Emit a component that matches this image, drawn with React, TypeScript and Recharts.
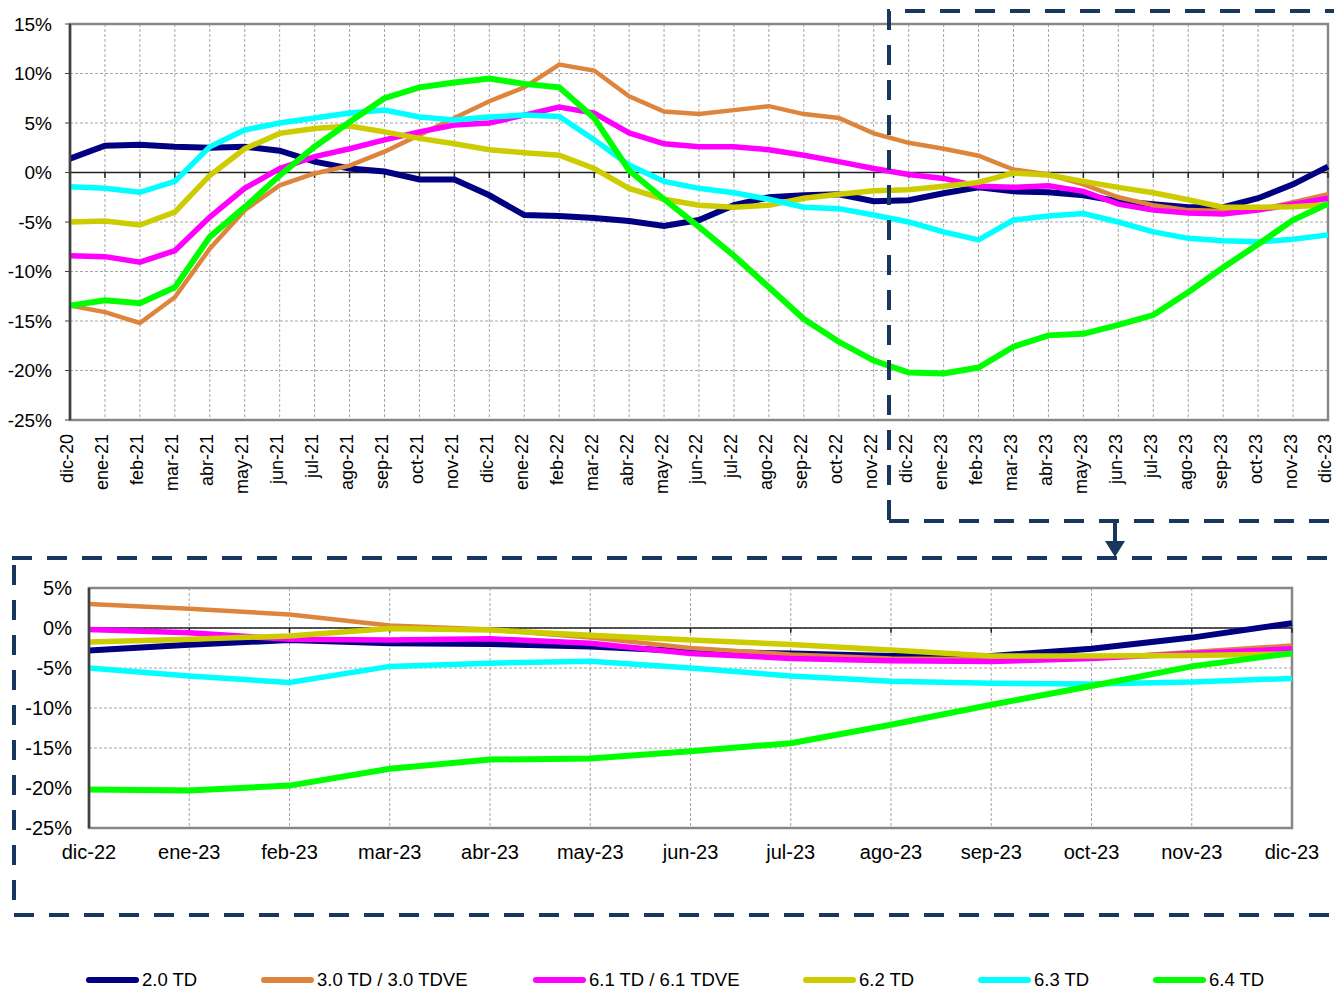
import React from 'react'
import { LineChart, Line, XAxis, YAxis, CartesianGrid, ReferenceLine, ReferenceArea } from 'recharts'

const months = [
  'dic-20', 'ene-21', 'feb-21', 'mar-21', 'abr-21', 'may-21', 'jun-21', 'jul-21', 'ago-21', 'sep-21', 'oct-21', 'nov-21',
  'dic-21', 'ene-22', 'feb-22', 'mar-22', 'abr-22', 'may-22', 'jun-22', 'jul-22', 'ago-22', 'sep-22', 'oct-22', 'nov-22',
  'dic-22', 'ene-23', 'feb-23', 'mar-23', 'abr-23', 'may-23', 'jun-23', 'jul-23', 'ago-23', 'sep-23', 'oct-23', 'nov-23',
  'dic-23',
]

// variación interanual (%)
const td20 = [1.4, 2.7, 2.8, 2.6, 2.5, 2.6, 2.2, 1.1, 0.4, 0.1, -0.7, -0.7, -2.3, -4.3, -4.4, -4.6, -4.9, -5.4, -4.8, -3.3, -2.5, -2.3, -2.2, -2.9, -2.8, -2.1, -1.5, -1.9, -2.0, -2.3, -2.9, -3.2, -3.5, -3.5, -2.6, -1.2, 0.6]
const td30 = [-13.45, -14.1, -15.2, -12.6, -7.7, -3.8, -1.3, -0.1, 0.7, 2.1, 3.8, 5.5, 7.2, 8.6, 10.9, 10.3, 7.7, 6.15, 5.9, 6.3, 6.7, 5.9, 5.5, 3.95, 3.0, 2.4, 1.7, 0.3, -0.2, -1.2, -2.5, -3.3, -3.8, -3.9, -3.8, -3.0, -2.2]
const td61 = [-8.4, -8.5, -9.05, -7.9, -4.5, -1.6, 0.4, 1.6, 2.4, 3.3, 4.1, 4.8, 5.0, 5.8, 6.6, 6.0, 4.0, 2.9, 2.6, 2.6, 2.3, 1.75, 1.1, 0.4, -0.2, -0.6, -1.4, -1.5, -1.35, -1.9, -3.2, -3.8, -4.1, -4.2, -3.8, -3.2, -2.6]
const td62 = [-5.0, -4.9, -5.3, -4.0, -0.3, 2.4, 3.95, 4.45, 4.7, 4.1, 3.45, 2.9, 2.3, 2.0, 1.75, 0.4, -1.6, -2.7, -3.3, -3.5, -3.3, -2.6, -2.2, -1.85, -1.75, -1.4, -1.0, -0.05, -0.25, -0.9, -1.5, -2.05, -2.75, -3.5, -3.5, -3.45, -3.25]
const td63 = [-1.45, -1.6, -2.0, -0.9, 2.6, 4.3, 5.0, 5.5, 6.0, 6.3, 5.6, 5.3, 5.6, 5.8, 5.65, 3.3, 0.75, -0.9, -1.6, -2.05, -2.7, -3.5, -3.65, -4.3, -5.0, -6.0, -6.8, -4.8, -4.4, -4.15, -5.0, -6.0, -6.65, -6.9, -7.0, -6.75, -6.3]
const td64 = [-13.45, -12.9, -13.2, -11.6, -6.5, -3.5, -0.3, 2.6, 5.1, 7.5, 8.6, 9.1, 9.5, 8.95, 8.6, 5.5, 0.2, -2.7, -5.5, -8.4, -11.6, -14.8, -17.1, -19.0, -20.2, -20.3, -19.7, -17.6, -16.45, -16.3, -15.4, -14.4, -12.1, -9.6, -7.25, -4.8, -3.15]

const seriesNames = ['2.0 TD', '3.0 TD / 3.0 TDVE', '6.1 TD / 6.1 TDVE', '6.2 TD', '6.3 TD', '6.4 TD']
const topTicks = [-25, -20, -15, -10, -5, 0, 5, 10, 15]
const zoomTicks = [-25, -20, -15, -10, -5, 0, 5]
const zoomFrom = 24 // dic-22

const series = [
  { key: 'td20', name: seriesNames[0], values: td20, color: '#000080', width: 6 },
  { key: 'td30', name: seriesNames[1], values: td30, color: '#dd853c', width: 4.5 },
  { key: 'td61', name: seriesNames[2], values: td61, color: '#ff00ff', width: 5.5 },
  { key: 'td62', name: seriesNames[3], values: td62, color: '#cccc00', width: 5.5 },
  { key: 'td63', name: seriesNames[4], values: td63, color: '#00ffff', width: 5.5 },
  { key: 'td64', name: seriesNames[5], values: td64, color: '#00ff00', width: 6 },
]

const data = months.map((mes, i) => {
  const row: Record<string, string | number> = { mes }
  series.forEach((s) => { row[s.key] = s.values[i] })
  return row
})
const zoomData = data.slice(zoomFrom)

const font = '"Liberation Sans", Arial, sans-serif'
const dashColor = '#17375e'
const legendLefts = [86, 261, 533, 803, 978, 1153]

function RotatedTick({ x, y, payload }: any) {
  return (
    <text transform={`translate(${x - 3},${y}) rotate(-90)`} textAnchor="end" dy="0.36em" fontSize={18} fill="#000" fontFamily={font}>
      {payload.value}
    </text>
  )
}

function FlatTick({ x, y, payload }: any) {
  return (
    <text x={x} y={y} textAnchor="middle" dy="0.75em" fontSize={20} fill="#000" fontFamily={font}>
      {payload.value}
    </text>
  )
}

function Panel({ rows, ticks, width, height, margin, yWidth, big }: any) {
  const first = rows[0].mes
  const last = rows[rows.length - 1].mes
  return (
    <LineChart width={width} height={height} data={rows} margin={margin}>
      <CartesianGrid stroke="#a6a6a6" strokeDasharray="3 2" />
      <ReferenceArea x1={first} x2={last} y1={ticks[0]} y2={ticks[ticks.length - 1]} fill="none" stroke="#878787" strokeWidth={2.5} />
      <XAxis
        dataKey="mes"
        interval={0}
        axisLine={false}
        tickLine={false}
        tickSize={0}
        tickMargin={big ? 14 : 16}
        height={big ? 76 : 40}
        tick={big ? <RotatedTick /> : <FlatTick />}
      />
      <YAxis
        domain={[ticks[0], ticks[ticks.length - 1]]}
        ticks={ticks}
        width={yWidth}
        interval={0}
        tickFormatter={(v: number) => `${v}%`}
        tick={{ fontSize: big ? 19 : 20, fill: '#000', fontFamily: font }}
        axisLine={{ stroke: '#404040', strokeWidth: 2.5 }}
        tickLine={big ? { stroke: '#404040' } : false}
        tickSize={big ? 5 : 0}
        tickMargin={big ? 13 : 17}
      />
      <ReferenceLine y={0} stroke="#222" strokeWidth={1.5} />
      {rows.map((r: any) => (
        <ReferenceLine key={r.mes} segment={[{ x: r.mes, y: 0 }, { x: r.mes, y: big ? -0.55 : -0.6 }]} stroke="#222" strokeWidth={1.5} />
      ))}
      {series.map((s) => (
        <Line
          key={s.key}
          type="linear"
          dataKey={s.key}
          name={s.name}
          stroke={s.color}
          strokeWidth={s.width}
          dot={false}
          activeDot={false}
          isAnimationActive={false}
        />
      ))}
    </LineChart>
  )
}

export default function App() {
  return (
    <div style={{ position: 'absolute', left: 0, top: 0, width: 1334, height: 989, background: '#fff', overflow: 'hidden' }}>
      <div style={{ position: 'absolute', left: 0, top: 0 }}>
        <Panel rows={data} ticks={topTicks} width={1334} height={500} margin={{ top: 24, right: 6, left: 0, bottom: 4 }} yWidth={70} big />
      </div>
      <div style={{ position: 'absolute', left: 0, top: 560 }}>
        <Panel rows={zoomData} ticks={zoomTicks} width={1334} height={320} margin={{ top: 28, right: 42, left: 0, bottom: 12 }} yWidth={89} />
      </div>

      <svg width={1334} height={989} style={{ position: 'absolute', left: 0, top: 0, pointerEvents: 'none' }}>
        <g fill="none" stroke={dashColor} strokeWidth={4} strokeDasharray="20 15">
          <path d="M889,520 V11 H1334" />
          <path d="M889,521 H1334" />
          <path d="M1115,523 V542" strokeDasharray="none" />
          <path d="M12,558 H1334" />
          <path d="M14,565 V915" />
          <path d="M14,915 H1334" />
        </g>
        <path d="M1105,541 L1125,541 L1115,557 Z" fill={dashColor} />
      </svg>

      {series.map((s, i) => (
        <div
          key={s.key}
          style={{
            position: 'absolute', left: legendLefts[i], top: 971, height: 18, display: 'flex', alignItems: 'center',
            fontFamily: font, fontSize: 18.5, lineHeight: '18px', whiteSpace: 'nowrap',
          }}
        >
          <span style={{ display: 'inline-block', width: 53, height: 6, borderRadius: 3, background: s.color }} />
          <span style={{ marginLeft: 3, color: '#000' }}>{s.name}</span>
        </div>
      ))}
    </div>
  )
}
